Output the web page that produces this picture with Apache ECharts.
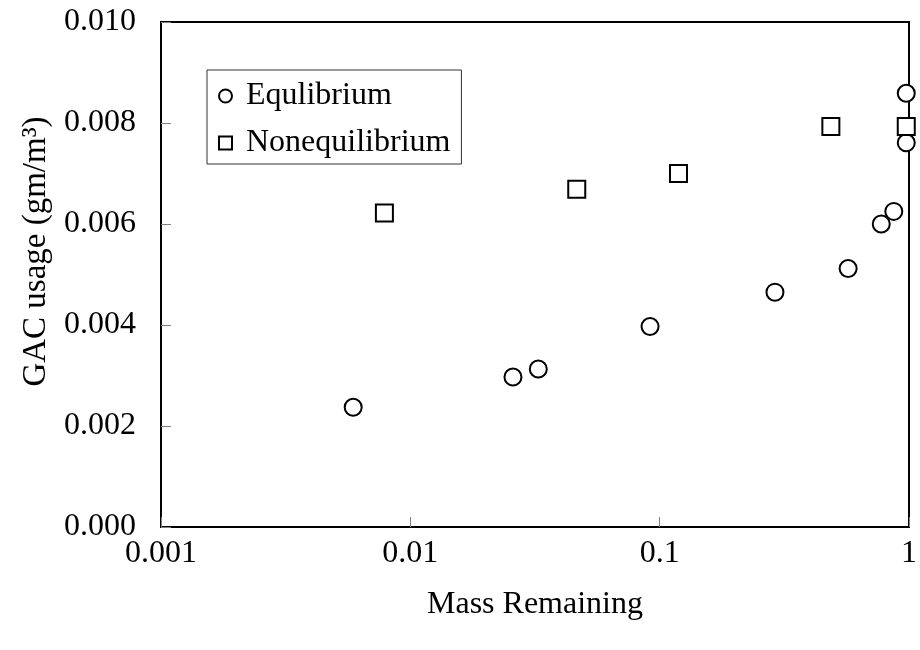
<!DOCTYPE html>
<html>
<head>
<meta charset="utf-8">
<script src="https://cdn.jsdelivr.net/npm/echarts@6/dist/echarts.min.js"></script>
<style>
html,body{margin:0;padding:0;background:#fff;}
#chart{width:920px;height:650px;}
</style>
</head>
<body>
<div id="chart"></div>
<script>
var eqMass = [0.0059, 0.0258, 0.0326, 0.0915, 0.290, 0.570, 0.774, 0.869, 0.975, 0.975];
var eqUsage = [0.00237, 0.00297, 0.00313, 0.00397, 0.00465, 0.00512, 0.00600, 0.00625, 0.00761, 0.00859];
var neqMass = [0.00787, 0.0465, 0.119, 0.486, 0.975];
var neqUsage = [0.00622, 0.00669, 0.00700, 0.00793, 0.00793];
var xTicks = [0.001, 0.01, 0.1, 1];
var yTicks = [0.000, 0.002, 0.004, 0.006, 0.008, 0.010];

function pairs(xs, ys){ return xs.map(function(x,i){ return [x, ys[i]]; }); }

var font = '"Liberation Serif", "Times New Roman", serif';
var chart = echarts.init(document.getElementById('chart'));
chart.setOption({
  animation: false,
  backgroundColor: '#fff',
  textStyle: {fontFamily: font},
  grid: {left: 161, right: 10, top: 22, bottom: 123, show: true, borderColor: '#000', borderWidth: 2, backgroundColor: 'transparent'},
  legend: {
    orient: 'vertical', left: 207, top: 70,
    padding: [10, 11, 5, 11], itemGap: 15,
    itemWidth: 13, itemHeight: 13,
    borderColor: '#333', borderWidth: 1,
    itemStyle: {borderWidth: 2},
    textStyle: {fontFamily: font, fontSize: 32, color: '#000', padding: [0,0,0,9]},
    data: [{name: 'Equlibrium', icon: 'circle'}, {name: 'Nonequilibrium', icon: 'rect'}]
  },
  xAxis: {
    type: 'log', logBase: 10, min: xTicks[0], max: xTicks[xTicks.length-1],
    name: 'Mass Remaining', nameLocation: 'middle', nameGap: 62,
    nameTextStyle: {fontFamily: font, fontSize: 32, color: '#000'},
    axisLine: {show: false},
    axisTick: {show: true, inside: true, length: 10, lineStyle: {color: '#808080', width: 1}},
    minorTick: {show: false},
    splitLine: {show: false},
    axisLabel: {fontFamily: font, fontSize: 32, color: '#000', margin: 11,
      formatter: function(v){ var best = xTicks.reduce(function(a,b){ return Math.abs(Math.log10(b)-Math.log10(v)) < Math.abs(Math.log10(a)-Math.log10(v)) ? b : a; }); return String(best); }}
  },
  yAxis: {
    type: 'value', min: yTicks[0], max: yTicks[yTicks.length-1], interval: 0.002,
    name: 'GAC usage (gm/m³)', nameLocation: 'middle', nameGap: 108, nameRotate: 90,
    nameTextStyle: {fontFamily: font, fontSize: 33, color: '#000', padding: [0,0,0,46]},
    axisLine: {show: false},
    axisTick: {show: true, inside: true, length: 10, lineStyle: {color: '#808080', width: 1}},
    splitLine: {show: false},
    axisLabel: {fontFamily: font, fontSize: 32, color: '#000', margin: 25,
      formatter: function(v){ return v.toFixed(3); }}
  },
  series: [
    {name: 'Equlibrium', type: 'scatter', symbol: 'circle', symbolSize: 17, clip: false,
     itemStyle: {color: '#fff', borderColor: '#000', borderWidth: 2, opacity: 1},
     data: pairs(eqMass, eqUsage)},
    {name: 'Nonequilibrium', type: 'scatter', symbol: 'rect', symbolSize: 17, clip: false,
     itemStyle: {color: '#fff', borderColor: '#000', borderWidth: 2, opacity: 1},
     data: pairs(neqMass, neqUsage)}
  ]
});
</script>
</body>
</html>
